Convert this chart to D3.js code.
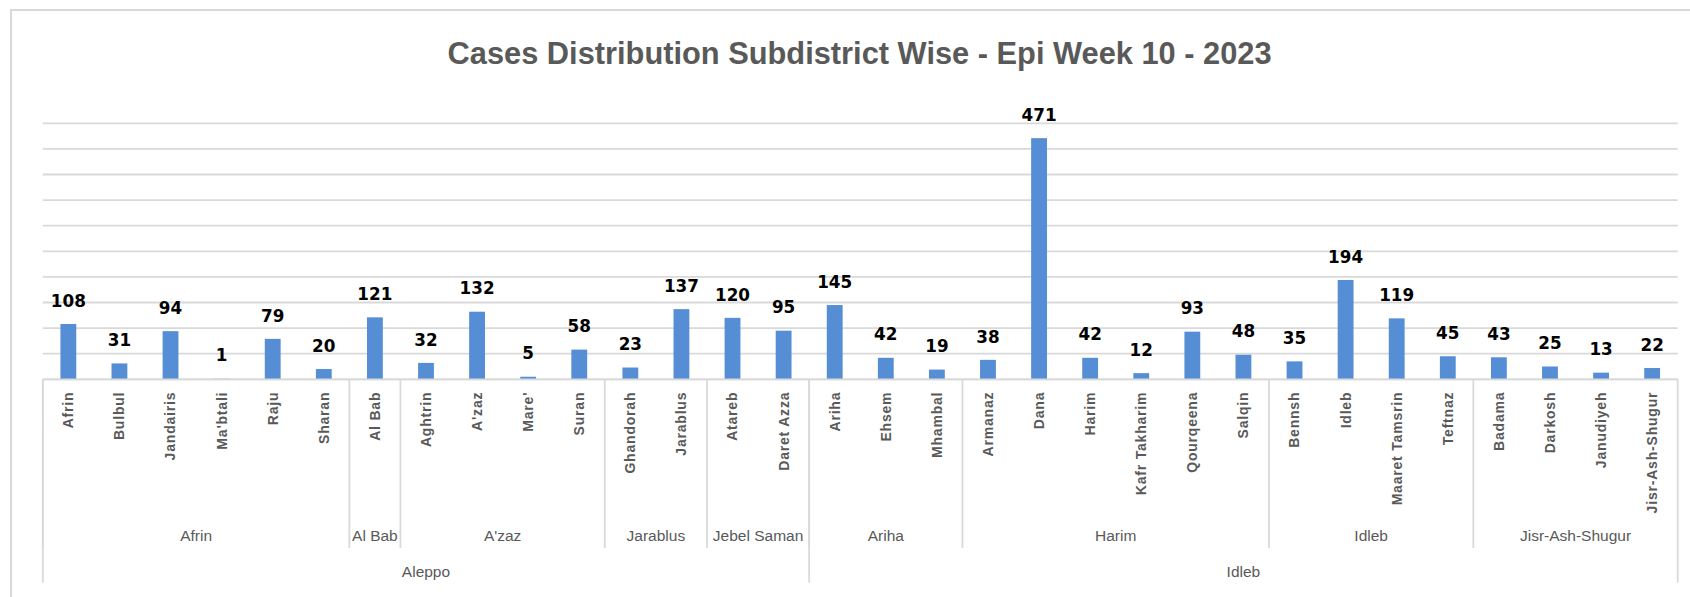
<!DOCTYPE html>
<html>
<head>
<meta charset="utf-8">
<script src="https://cdn.jsdelivr.net/npm/d3@7"></script>
<style>
  html, body { margin: 0; padding: 0; background: #ffffff; }
  svg { display: block; }
</style>
</head>
<body>
<div id="chart"></div>
<script>
// ---- Data ----
const chartTitle = "Cases Distribution Subdistrict Wise - Epi Week 10 - 2023";
const communities = [
  "Afrin","Bulbul","Jandairis","Ma'btali","Raju","Sharan",
  "Al Bab",
  "Aghtrin","A'zaz","Mare'","Suran",
  "Ghandorah","Jarablus",
  "Atareb","Daret Azza",
  "Ariha","Ehsem","Mhambal",
  "Armanaz","Dana","Harim","Kafr Takharim","Qourqeena","Salqin",
  "Bennsh","Idleb","Maaret Tamsrin","Teftnaz",
  "Badama","Darkosh","Janudiyeh","Jisr-Ash-Shugur"
];
const cases = [
  108,31,94,1,79,20,
  121,
  32,132,5,58,
  23,137,
  120,95,
  145,42,19,
  38,471,42,12,93,48,
  35,194,119,45,
  43,25,13,22
];
const subdistricts = ["Afrin","Al Bab","A'zaz","Jarablus","Jebel Saman","Ariha","Harim","Idleb","Jisr-Ash-Shugur"];
const subdistrictCounts = [6,1,4,2,2,3,6,4,4];
const governorates = ["Aleppo","Idleb"];
const governorateCounts = [15,17];
const yTickValues = [0,50,100,150,200,250,300,350,400,450,500];

// ---- Layout ----
const W = 1690, H = 597;
const plotLeft = 42.8, plotRight = 1677.7;
const plotTop = 123.3, axisY = 379.3;
const subLabelY = 536, govLabelY = 572;
const subLineBottom = 548, govLineBottom = 582.5;
const gridColor = "#d9d9d9";
const textGray = "#595959";
const barColor = "#558ED5";

const svg = d3.select("#chart").append("svg")
  .attr("width", W).attr("height", H);

// Outer chart border (extends beyond the visible frame on right/bottom)
svg.append("rect")
  .attr("x", 11).attr("y", 10)
  .attr("width", W + 20).attr("height", H + 20)
  .attr("fill", "#fff")
  .attr("stroke", gridColor).attr("stroke-width", 2);

// Title
svg.append("text")
  .attr("x", 859.6).attr("y", 64)
  .attr("text-anchor", "middle")
  .attr("font-family", "'Liberation Sans', Arial, sans-serif")
  .attr("font-weight", "bold")
  .attr("font-size", 30.8)
  .attr("fill", textGray)
  .text(chartTitle);

// Scales
const x = d3.scaleBand().domain(communities).range([plotLeft, plotRight]).padding(0);
const y = d3.scaleLinear().domain([0, 500]).range([axisY, plotTop]);
const barW = x.bandwidth() * 0.31;

// Gridlines
svg.append("g").selectAll("line")
  .data(yTickValues)
  .join("line")
  .attr("x1", plotLeft).attr("x2", plotRight)
  .attr("y1", d => y(d)).attr("y2", d => y(d))
  .attr("stroke", gridColor).attr("stroke-width", 1.8);

// Bars
svg.append("g").selectAll("rect")
  .data(communities)
  .join("rect")
  .attr("x", d => x(d) + (x.bandwidth() - barW) / 2)
  .attr("width", barW)
  .attr("y", (d, i) => y(cases[i]))
  .attr("height", (d, i) => y(0) - y(cases[i]))
  .attr("fill", barColor);

// Value labels
svg.append("g").selectAll("text")
  .data(communities)
  .join("text")
  .attr("x", d => x(d) + x.bandwidth() / 2)
  .attr("y", (d, i) => y(cases[i]) - 17.3)
  .attr("text-anchor", "middle")
  .attr("font-family", "'DejaVu Sans', sans-serif")
  .attr("font-weight", "bold")
  .attr("font-size", 16.8)
  .attr("fill", "#000")
  .text((d, i) => cases[i]);

// Category axis (communities)
const axisG = svg.append("g")
  .attr("transform", `translate(0,${axisY})`)
  .call(d3.axisBottom(x).tickSize(0));
axisG.select(".domain").remove();
axisG.selectAll("text")
  .attr("transform", "rotate(-90)")
  .attr("x", -12.4)
  .attr("y", 0)
  .attr("dy", "0.35em")
  .attr("text-anchor", "end")
  .attr("font-family", "'Liberation Sans', Arial, sans-serif")
  .attr("font-weight", "bold")
  .attr("font-size", 14)
  .attr("letter-spacing", "0.8px")
  .attr("fill", textGray);

// Axis baseline
svg.append("line")
  .attr("x1", plotLeft).attr("x2", plotRight)
  .attr("y1", axisY).attr("y2", axisY)
  .attr("stroke", gridColor).attr("stroke-width", 1.8);

// Group helpers
const bandStep = x.step();
function groupRanges(counts) {
  let start = 0;
  return counts.map(c => {
    const r = { x0: plotLeft + start * bandStep, x1: plotLeft + (start + c) * bandStep };
    start += c;
    return r;
  });
}
const subRanges = groupRanges(subdistrictCounts);
const govRanges = groupRanges(governorateCounts);

// Subdistrict separators
const subEdges = subRanges.map(r => r.x0);
svg.append("g").selectAll("line")
  .data(subEdges)
  .join("line")
  .attr("x1", d => d).attr("x2", d => d)
  .attr("y1", axisY).attr("y2", subLineBottom)
  .attr("stroke", gridColor).attr("stroke-width", 1.8);

// Governorate separators (incl. outer edges)
const govEdges = govRanges.map(r => r.x0).concat([plotRight]);
svg.append("g").selectAll("line")
  .data(govEdges)
  .join("line")
  .attr("x1", d => d).attr("x2", d => d)
  .attr("y1", axisY).attr("y2", govLineBottom)
  .attr("stroke", gridColor).attr("stroke-width", 1.8);

// Subdistrict labels
svg.append("g").selectAll("text")
  .data(subdistricts)
  .join("text")
  .attr("x", (d, i) => (subRanges[i].x0 + subRanges[i].x1) / 2)
  .attr("y", subLabelY)
  .attr("dy", "0.35em")
  .attr("text-anchor", "middle")
  .attr("font-family", "'Liberation Sans', Arial, sans-serif")
  .attr("font-size", 15.5)
  .attr("fill", textGray)
  .text(d => d);

// Governorate labels
svg.append("g").selectAll("text")
  .data(governorates)
  .join("text")
  .attr("x", (d, i) => (govRanges[i].x0 + govRanges[i].x1) / 2)
  .attr("y", govLabelY)
  .attr("dy", "0.35em")
  .attr("text-anchor", "middle")
  .attr("font-family", "'Liberation Sans', Arial, sans-serif")
  .attr("font-size", 15.5)
  .attr("fill", textGray)
  .text(d => d);
</script>
</body>
</html>
